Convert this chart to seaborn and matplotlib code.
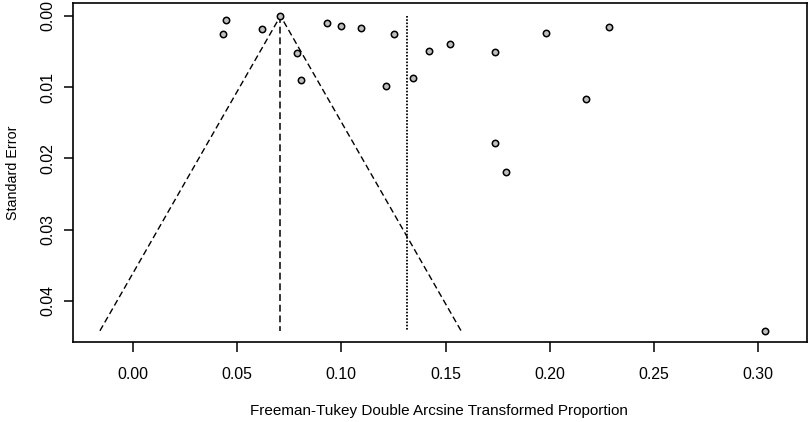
import numpy as np
import pandas as pd
import matplotlib
matplotlib.use("Agg")
import matplotlib.pyplot as plt
import seaborn as sns

# Data
effect = [0.0448, 0.0432, 0.0619, 0.0705, 0.0932, 0.0997, 0.1096, 0.1251,
          0.0785, 0.0805, 0.1214, 0.1342, 0.1420, 0.1523, 0.1739, 0.1980,
          0.2286, 0.2172, 0.1737, 0.1791, 0.3031]
std_err = [0.00058, 0.00254, 0.00184, 0.00000, 0.00095, 0.00146, 0.00165, 0.00254,
           0.00516, 0.00904, 0.00988, 0.00872, 0.00488, 0.00390, 0.00502, 0.00236,
           0.00151, 0.01166, 0.01784, 0.02190, 0.04420]
fixed_estimate = 0.0708
random_estimate = 0.1313
z_crit = 1.96
x_ticks = [0.00, 0.05, 0.10, 0.15, 0.20, 0.25, 0.30]
y_ticks = [0.00, 0.01, 0.02, 0.03, 0.04]
x_label = "Freeman-Tukey Double Arcsine Transformed Proportion"
y_label = "Standard Error"

df = pd.DataFrame({"effect": effect, "se": std_err})

sns.set_theme(style="ticks")
plt.rcParams["font.family"] = ["Liberation Sans", "DejaVu Sans"]

W, H = 810, 422
fig = plt.figure(figsize=(W / 100, H / 100), dpi=100)
ax_left, ax_right, ax_top, ax_bottom = 73.3, 807.0, 3.3, 342.0
ax = fig.add_axes([ax_left / W, 1 - ax_bottom / H,
                   (ax_right - ax_left) / W, (ax_bottom - ax_top) / H])
ax.set_facecolor("white")

max_se = max(std_err)

# funnel lines
ax.plot([fixed_estimate - z_crit * max_se, fixed_estimate, fixed_estimate + z_crit * max_se],
        [max_se, 0, max_se], color="black", lw=1.0, linestyle=(0, (4.5, 2.5)))
# vertical reference lines
ax.plot([fixed_estimate, fixed_estimate], [0, max_se], color="black", lw=1.1,
        linestyle=(0, (4.5, 2.5)))
ax.plot([random_estimate, random_estimate], [0, max_se], color="black", lw=1.3,
        linestyle=(0, (0.9, 0.9)))

sns.scatterplot(data=df, x="effect", y="se", ax=ax, s=21, color="#BEBEBE",
                edgecolor="black", linewidth=1.1, zorder=5, legend=False)

ax.set_xlim(-0.0286, 0.3234)
ax.set_ylim(0.04577, -0.00177)
ax.set_xticks(x_ticks)
ax.set_xticklabels([f"{t:.2f}" for t in x_ticks])
ax.set_yticks(y_ticks)
ax.set_yticklabels([f"{t:.2f}" for t in y_ticks], rotation=90, va="center")

for sp in ax.spines.values():
    sp.set_visible(True)
    sp.set_color("black")
    sp.set_linewidth(1.2)

ax.tick_params(axis="x", direction="out", length=7.2, width=1.1, color="black",
               labelsize=11.4, pad=10.5, labelcolor="black")
ax.tick_params(axis="y", direction="out", length=6.5, width=1.1, color="black",
               labelsize=11.4, pad=6.5, labelcolor="black")

ax.set_xlabel(x_label, fontsize=11, color="black")
ax.set_ylabel(y_label, fontsize=10.3, color="black")
ax.xaxis.set_label_coords((438.7 - ax_left) / (ax_right - ax_left),
                          (ax_bottom - 411) / (ax_bottom - ax_top))
ax.xaxis.label.set_va("center")
ax.yaxis.set_label_coords((12.7 - ax_left) / (ax_right - ax_left), 0.5)
ax.yaxis.label.set_va("center")

fig.savefig("out.png", dpi=100, facecolor="white")
